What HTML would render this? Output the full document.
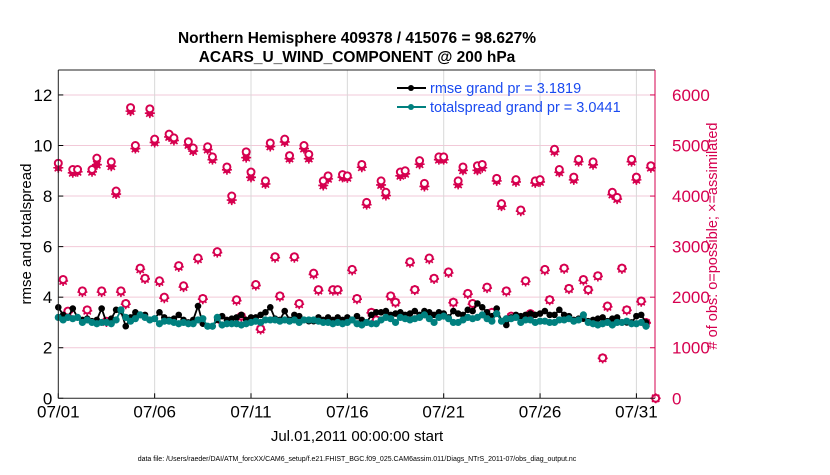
<!DOCTYPE html>
<html><head><meta charset="utf-8"><style>
body{margin:0;background:#fff;width:830px;height:470px;overflow:hidden}
svg{font-family:"Liberation Sans",Arial,sans-serif}
</style></head><body>
<svg id="chart" width="830" height="470">
<g id="grid"></g>
<g id="obs"></g>
<g id="lines"></g>
<g id="axes"></g>
<text x="357" y="43" text-anchor="middle" font-size="15.5" font-weight="bold">Northern Hemisphere 409378 / 415076 = 98.627%</text>
<text x="357" y="62" text-anchor="middle" font-size="15.5" font-weight="bold">ACARS_U_WIND_COMPONENT @ 200 hPa</text>
<text transform="translate(31,234) rotate(-90)" text-anchor="middle" font-size="15">rmse and totalspread</text>
<text transform="translate(717,236) rotate(-90)" text-anchor="middle" font-size="14.5" fill="#d6004f"># of obs: o=possible; ×=assimilated</text>
<text x="357" y="441" text-anchor="middle" font-size="15">Jul.01,2011 00:00:00 start</text>
<text x="357" y="461" text-anchor="middle" font-size="7">data file: /Users/raeder/DAI/ATM_forcXX/CAM6_setup/f.e21.FHIST_BGC.f09_025.CAM6assim.011/Diags_NTrS_2011-07/obs_diag_output.nc</text>
<g>
<line x1="397" y1="88" x2="426" y2="88" stroke="#000" stroke-width="2"/><circle cx="411" cy="88" r="3" fill="#000"/>
<text x="430" y="93" font-size="14.5" fill="#1a4af0">rmse grand pr = 3.1819</text>
<line x1="397" y1="107" x2="426" y2="107" stroke="#00807f" stroke-width="2"/><circle cx="411" cy="107" r="3" fill="#00807f"/>
<text x="430" y="112" font-size="14.5" fill="#1a4af0">totalspread grand pr = 3.0441</text>
</g>
</svg>
<script>
const rmse=[3.6,3.3,3.2,3.55,3.2,3.1,3.15,3.05,3.1,3.55,3.0,3.15,3.5,3.45,2.85,3.2,3.4,3.3,3.3,3.1,3.15,3.4,3.2,3.1,3.15,3.3,3.1,3.0,3.1,3.65,2.95,2.85,2.85,3.1,3.25,3.1,3.15,3.2,3.3,3.1,3.2,3.2,3.3,3.4,3.6,3.15,3.1,3.45,3.1,3.3,3.25,3.1,3.05,3.05,3.2,3.1,3.2,3.1,3.2,3.1,3.2,3.1,3.25,3.1,3.0,3.3,3.4,3.4,3.45,3.3,3.35,3.4,3.3,3.35,3.45,3.3,3.45,3.4,3.3,3.4,3.35,3.2,3.45,3.35,3.3,3.5,3.45,3.75,3.6,3.4,3.25,3.55,3.05,2.9,3.2,3.3,3.25,3.3,3.35,3.3,3.35,3.45,3.3,3.3,3.5,3.3,3.25,3.1,3.15,3.15,3.05,3.1,3.15,3.2,3.05,3.15,3.2,3.0,3.0,3.0,3.25,3.3,3.0];
const spread=[3.2,3.1,3.2,3.15,3.2,3.0,3.1,3.0,2.95,3.0,3.0,2.95,3.1,3.5,3.2,3.05,3.15,3.3,3.2,3.1,3.15,2.95,3.05,3.05,3.0,2.95,3.0,2.95,2.95,3.1,3.15,2.85,2.85,3.2,2.9,2.95,2.95,2.95,2.9,2.95,3.0,3.05,3.0,3.1,3.1,3.1,3.05,3.1,3.05,3.1,3.0,3.1,3.1,3.1,3.05,3.0,3.0,2.95,3.0,2.95,3.0,3.1,2.95,2.9,3.0,2.95,2.95,3.1,3.2,3.15,3.0,3.2,3.15,3.1,3.15,3.2,3.3,3.15,3.0,3.2,3.25,3.15,3.0,3.0,3.1,3.2,3.15,3.2,3.3,3.15,3.05,3.35,3.05,3.15,3.15,3.2,3.0,3.1,3.1,3.0,3.05,3.05,3.0,3.0,3.1,3.1,3.15,3.05,3.1,3.3,3.0,2.95,2.9,2.95,3.0,2.9,3.0,3.0,3.05,2.95,2.95,3.0,2.85];
const possible=[4650,2350,1725,4525,4525,2125,1750,4525,4750,2125,1525,4675,4100,2125,1875,5750,5000,2575,2375,5725,5125,2325,2000,5225,5150,2625,2225,5075,4950,2775,1975,4975,4775,2900,1550,4575,4000,1950,1625,4875,4475,2250,1375,4300,5050,2800,2025,5125,4800,2800,1875,5000,4825,2475,2150,4300,4400,2150,2150,4425,4400,2550,1975,4625,3875,1700,1550,4300,4075,2025,1900,4475,4500,2700,2150,4700,4250,2775,2375,4775,4775,2500,1900,4300,4575,2075,1875,4600,4625,2200,1700,4350,3850,2125,1625,4325,3725,2325,1675,4300,4325,2550,1950,4925,4525,2575,2175,4375,4725,2350,2150,4675,2425,800,1825,4075,3975,2575,1750,4725,4375,1925,1500,4600,0];
const assimilated=[4560,2320,1700,4460,4480,2100,1730,4480,4620,2100,1510,4590,4040,2100,1860,5680,4940,2550,2360,5640,5060,2300,1980,5170,5100,2600,2200,5010,4890,2750,1960,4920,4720,2880,1540,4520,3920,1930,1610,4760,4370,2230,1360,4240,4980,2780,2010,5070,4740,2780,1860,4940,4740,2450,2130,4210,4340,2130,2130,4370,4360,2530,1960,4570,3830,1690,1540,4220,4010,2010,1890,4400,4440,2680,2140,4630,4190,2750,2360,4720,4720,2480,1890,4230,4510,2060,1860,4510,4560,2180,1690,4300,3800,2110,1610,4280,3700,2310,1660,4260,4280,2530,1940,4880,4470,2560,2160,4320,4680,2330,2140,4620,2410,790,1810,4030,3940,2560,1740,4680,4320,1910,1490,4560,0];
const xTickLabels=["07/01","07/06","07/11","07/16","07/21","07/26","07/31"];
const yTicks=[0,2,4,6,8,10,12];
const y2Ticks=[0,1000,2000,3000,4000,5000,6000];
const NS="http://www.w3.org/2000/svg";
const X0=58.3,PXD=19.27,Y0=398.3,PXU=25.28,TOP=70,RIGHT=655;
const xs=d=>X0+d*PXD, ys=v=>Y0-v*PXU, ys2=c=>Y0-c/500*PXU;
function mk(p,t,a){const e=document.createElementNS(NS,t);for(const k in a)e.setAttribute(k,a[k]);p.appendChild(e);return e;}
const grid=document.getElementById('grid'),axes=document.getElementById('axes'),obs=document.getElementById('obs'),lines=document.getElementById('lines');
yTicks.forEach(v=>{if(v>0){const l=mk(grid,'line',{x1:X0,x2:RIGHT,y1:ys(v),y2:ys(v),stroke:'#f2c9d8','stroke-width':1});

}
mk(axes,'line',{x1:X0,x2:X0+5,y1:ys(v),y2:ys(v),stroke:'#000'});
const t=mk(axes,'text',{x:X0-6,y:ys(v)+6,'text-anchor':'end','font-size':17});t.textContent=v;

});
y2Ticks.forEach(c=>{mk(axes,'line',{x1:RIGHT-5,x2:RIGHT,y1:ys2(c),y2:ys2(c),stroke:'#d6004f'});
const t=mk(axes,'text',{x:RIGHT+17,y:ys2(c)+6,'font-size':17,fill:'#d6004f'});t.textContent=c;

});
xTickLabels.forEach((s,i)=>{const x=xs(i*5);
if(i>0){const l=mk(grid,'line',{x1:x,x2:x,y1:TOP,y2:Y0,stroke:'#d8d8d8'});

}
mk(axes,'line',{x1:x,x2:x,y1:Y0,y2:Y0-5,stroke:'#000'});
const t=mk(axes,'text',{x:x,y:Y0+19,'text-anchor':'middle','font-size':17});t.textContent=s;

});
mk(axes,'line',{x1:X0,x2:X0,y1:TOP,y2:Y0,stroke:'#222'});
mk(axes,'line',{x1:X0,x2:RIGHT,y1:Y0,y2:Y0,stroke:'#222'});
mk(axes,'line',{x1:X0,x2:RIGHT,y1:TOP,y2:TOP,stroke:'#222'});
mk(axes,'line',{x1:RIGHT,x2:RIGHT,y1:TOP,y2:Y0,stroke:'#d6004f'});
const P='#d6004f';
assimilated.forEach((c,i)=>{const x=xs(i*0.25),y=ys2(c);
const g=mk(obs,'g',{});


mk(g,'circle',{cx:x,cy:y,r:3.6,fill:P});
mk(g,'path',{d:`M${x-5} ${y}H${x+5}M${x} ${y-5}V${y+5}M${x-3.6} ${y-3.6}L${x+3.6} ${y+3.6}M${x-3.6} ${y+3.6}L${x+3.6} ${y-3.6}`,stroke:P,'stroke-width':1.6});});
possible.forEach((c,i)=>{const x=xs(i*0.25),y=ys2(c);
const m=mk(obs,'circle',{cx:x,cy:y,r:3.5,fill:'#fff',stroke:P,'stroke-width':2});

});
function series(arr,col,r,name){
const pl=mk(lines,'polyline',{points:arr.map((v,i)=>xs(i*0.25)+','+ys(v)).join(' '),fill:'none',stroke:col,'stroke-width':1.8});


arr.forEach((v,i)=>{const c=mk(lines,'circle',{cx:xs(i*0.25),cy:ys(v),r:r,fill:col});

});}
series(rmse,'#000',3.3,'rmse');
series(spread,'#00807f',3.6,'totalspread');
</script>
</body></html>
